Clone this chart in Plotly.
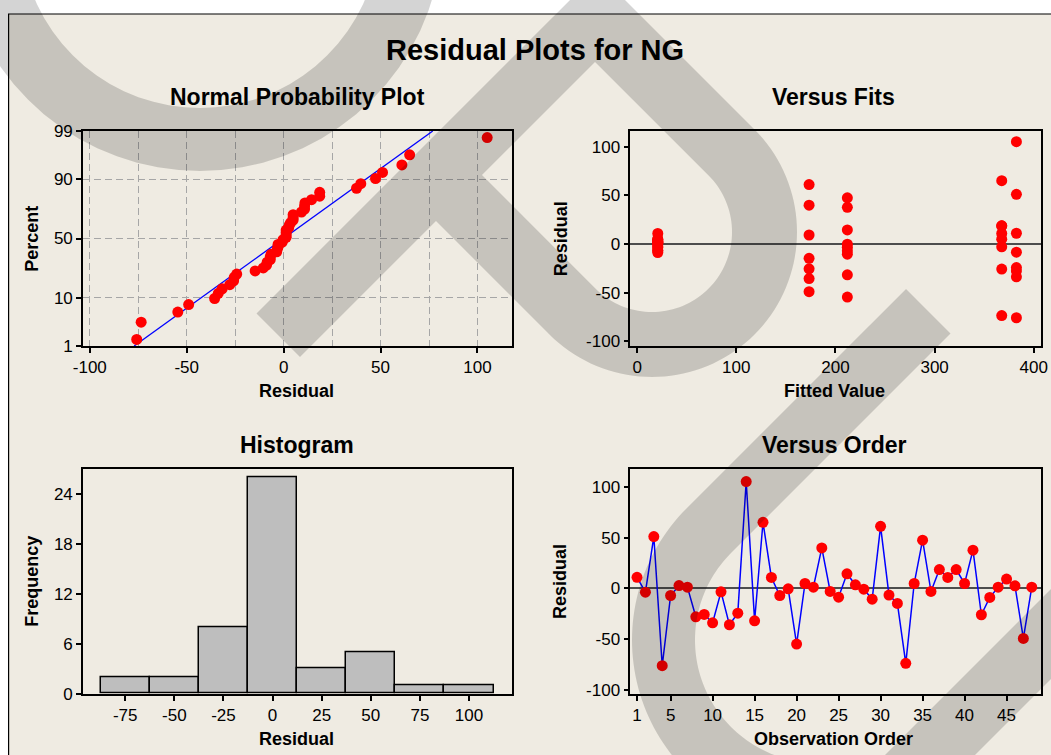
import math
from statistics import NormalDist, mean, stdev
import plotly.graph_objects as go

# Figure fills the whole 1051x755 window (page margins removed after drawing)
FW, FH = 1051, 755

# ---------------- data ----------------
observation = list(range(1, 49))
residuals = [11, -3.6, 51, -75.8, -6.9, 2.9, 1.3, -27.8, -25.5, -33.7,
             -3.3, -35.6, -24.2, 105, -31.7, 65, 10.8, -6.9, -0.3, -54.6,
             4.9, 1.3, 39.8, -2.9, -8.5, 14.4, 3.6, -0.7, -10.5, 61,
             -6.5, -14.7, -73.5, 4.9, 47.4, -2.9, 18.6, 10.8, 18.6, 4.9,
             37.6, -25.8, -8.8, 1.3, 9.2, 2.6, -49.0, 1.3]
fitted = [382.5, 20.8, 382.5, 382.5, 212.0, 20.8, 20.8, 382.5, 173.4, 382.5,
          212.0, 173.4, 382.5, 382.5, 212.0, 367.7, 20.8, 20.8, 212.0, 212.0,
          367.7, 20.8, 173.4, 367.7, 382.5, 212.0, 20.8, 20.8, 212.0, 173.4,
          20.8, 173.4, 367.7, 20.8, 212.0, 20.8, 367.7, 367.7, 367.7, 20.8,
          212.0, 367.7, 20.8, 20.8, 173.4, 20.8, 173.4, 20.8]
percent_ticks = [1, 10, 50, 90, 99]
npp_x_ticks = [-100, -50, 0, 50, 100]
fits_x_ticks = [0, 100, 200, 300, 400]
resid_ticks = [-100, -50, 0, 50, 100]
hist_x_ticks = [-75, -50, -25, 0, 25, 50, 75, 100]
hist_y_ticks = [0, 6, 12, 18, 24]
order_ticks = [1, 5, 10, 15, 20, 25, 30, 35, 40, 45]
bin_start, bin_end, bin_width = -87.5, 112.5, 25

# ---------------- derived (normal probability) ----------------
nd = NormalDist()
n = len(residuals)
sorted_res = sorted(residuals)
z_pts = [nd.inv_cdf((i - 0.3) / (n + 0.4)) for i in range(1, n + 1)]
mu, sd = mean(residuals), stdev(residuals)
z_lo, z_hi = nd.inv_cdf(0.01), nd.inv_cdf(0.99)
line_z = [z_lo, z_hi]
line_x = [mu + sd * z for z in line_z]


def lab(v):
    return str(v).replace("\u2212", "-")


def fx(X):
    """window pixel x -> paper fraction"""
    return X / FW


def fy(Y):
    """window pixel y -> paper fraction"""
    return 1 - Y / FH


FONT = "Liberation Sans"
RED = "#ff0000"
BLUE = "#0000ff"

fig = go.Figure()

# Normal probability plot
fig.add_trace(go.Scatter(x=line_x, y=line_z, mode="lines",
                         line=dict(color=BLUE, width=1.3),
                         xaxis="x", yaxis="y", hoverinfo="skip"))
fig.add_trace(go.Scatter(x=sorted_res, y=z_pts, mode="markers",
                         marker=dict(color=RED, size=11),
                         xaxis="x", yaxis="y"))
# Versus fits
fig.add_trace(go.Scatter(x=fitted, y=residuals, mode="markers",
                         marker=dict(color=RED, size=11),
                         xaxis="x2", yaxis="y2"))
# Histogram
fig.add_trace(go.Histogram(x=residuals,
                           xbins=dict(start=bin_start, end=bin_end, size=bin_width),
                           marker=dict(color="#bebebe", line=dict(color="black", width=1.5)),
                           xaxis="x3", yaxis="y3"))
# Versus order
fig.add_trace(go.Scatter(x=observation, y=residuals, mode="lines+markers",
                         line=dict(color=BLUE, width=1.5),
                         marker=dict(color=RED, size=11),
                         xaxis="x4", yaxis="y4"))


def ax(**kw):
    base = dict(showline=True, linecolor="black", linewidth=1.6, mirror=True,
                ticks="outside", ticklen=5, tickwidth=1.5, tickcolor="black",
                tickfont=dict(family=FONT, size=17, color="black"),
                showgrid=False, zeroline=False, fixedrange=True, automargin=False)
    base.update(kw)
    return base


GRID = "#a6a6a6"
DASH = "7px,4px"

top_y = [fy(346), fy(131)]
bot_y = [fy(693.7), fy(469.3)]
left_x = [fx(83), fx(512)]
right_x = [fx(630.3), fx(1041)]

layout = dict(
    width=FW, height=FH,
    margin=dict(l=0, r=0, t=0, b=0, pad=0, autoexpand=False),
    paper_bgcolor="white", plot_bgcolor="white",
    showlegend=False, bargap=0,
    font=dict(family=FONT, color="black"),
    xaxis=ax(domain=left_x, anchor="y", range=[-103.5, 117.8],
             tickmode="array", tickvals=npp_x_ticks, ticktext=[lab(v) for v in npp_x_ticks],
             showgrid=True, gridcolor=GRID, griddash=DASH, gridwidth=1,
             minor=dict(dtick=25, tick0=0, showgrid=True, gridcolor=GRID,
                        griddash=DASH, gridwidth=1, ticklen=0)),
    yaxis=ax(domain=top_y, anchor="x", range=[z_lo, z_hi],
             tickmode="array", tickvals=[nd.inv_cdf(p / 100) for p in percent_ticks],
             ticktext=[str(p) for p in percent_ticks],
             showgrid=True, gridcolor=GRID, griddash=DASH, gridwidth=1),
    xaxis2=ax(domain=right_x, anchor="y2", range=[-6.9, 407.3],
              tickmode="array", tickvals=fits_x_ticks, ticktext=[lab(v) for v in fits_x_ticks]),
    yaxis2=ax(domain=top_y, anchor="x2", range=[-104.8, 116],
              tickmode="array", tickvals=resid_ticks, ticktext=[lab(v) for v in resid_ticks],
              zeroline=True, zerolinecolor="#4d4d4d", zerolinewidth=1.5),
    xaxis3=ax(domain=left_x, anchor="y3", range=[-96.5, 121.9],
              tickmode="array", tickvals=hist_x_ticks, ticktext=[lab(v) for v in hist_x_ticks]),
    yaxis3=ax(domain=bot_y, anchor="x3", range=[0, 27],
              tickmode="array", tickvals=hist_y_ticks, ticktext=[lab(v) for v in hist_y_ticks]),
    xaxis4=ax(domain=right_x, anchor="y4", range=[0.2, 49.1],
              tickmode="array", tickvals=order_ticks, ticktext=[lab(v) for v in order_ticks]),
    yaxis4=ax(domain=bot_y, anchor="x4", range=[-103.3, 117],
              tickmode="array", tickvals=resid_ticks, ticktext=[lab(v) for v in resid_ticks],
              zeroline=True, zerolinecolor="#4d4d4d", zerolinewidth=1.5),
)
fig.update_layout(**layout)


# ---------------- text ----------------
def text(t, X, Y, size, angle=0):
    fig.add_annotation(text=f"<b>{t}</b>", x=fx(X), y=fy(Y),
                       xref="paper", yref="paper", showarrow=False,
                       xanchor="center", yanchor="middle", textangle=angle,
                       font=dict(family=FONT, size=size, color="black"))


text("Residual Plots for NG", 535, 49.7, 29)
text("Normal Probability Plot", 297, 97.4, 23)
text("Versus Fits", 833, 97.4, 23)
text("Histogram", 297, 445.4, 23)
text("Versus Order", 834, 445.4, 23)
text("Residual", 296, 390.6, 18)
text("Fitted Value", 834, 390.6, 18)
text("Residual", 296, 739, 18)
text("Observation Order", 833, 739, 18)
text("Percent", 31.3, 238.5, 18, -90)
text("Residual", 560.8, 238.5, 18, -90)
text("Frequency", 31.3, 581.5, 18, -90)
text("Residual", 559.5, 581.5, 18, -90)


# ---------------- background frame and watermark ----------------
def pt(X, Y):
    return f"{fx(X):.5f},{fy(Y):.5f}"


def arc(cx, cy, r, a0, a1, steps=72):
    out = []
    for k in range(steps + 1):
        a = math.radians(a0 + (a1 - a0) * k / steps)
        out.append((cx + r * math.cos(a), cy + r * math.sin(a)))
    return out


def poly(points):
    return "M" + " L".join(pt(x, y) for x, y in points) + " Z"


shapes = [dict(type="path", xref="paper", yref="paper", layer="below",
               path=poly([(8.6, 14), (1100, 14), (1100, 800), (8.6, 800)]),
               fillcolor="#efebe2", line=dict(color="black", width=1.2))]

wm = []
# U ring, top left
wm.append(poly(arc(200, -72, 243, 0, 360)) + " " + poly(arc(200, -72, 180, 0, 360)))
# chevron with loop, top middle
outer = [(597.5, -27.5), (754.5, 129.5)] + arc(652, 232, 145, -45, 135) + \
        [(436, 221), (300, 357), (256.5, 313.5)]
hole = [(595, 62), (708.6, 175.4)] + arc(652, 232, 80, -45, 135) + [(482, 175)]
wm.append(poly(outer) + " " + poly(hole))
# diagonal band into C ring, bottom middle
c_shape = [(906, 289)] + arc(818, 640, 186, 225, 90) + arc(818, 640, 123, 90, 225) + [(950.5, 333.5)]
wm.append(poly(c_shape))
# diagonal band, bottom right
wm.append(poly([(1200, 440), (800, 840), (890, 840), (1290, 440)]))

for p in wm:
    shapes.append(dict(type="path", xref="paper", yref="paper", layer="above",
                       path=p, fillcolor="rgba(0,0,0,0.17)", fillrule="evenodd",
                       line=dict(width=0)))

fig.update_layout(shapes=shapes)

post = ("document.documentElement.style.margin='0';"
        "document.documentElement.style.padding='0';"
        "document.body.style.margin='0';document.body.style.padding='0';"
        "document.body.style.overflow='hidden';"
        "var d=document.getElementById('{plot_id}');"
        "d.style.position='absolute';d.style.left='0px';d.style.top='0px';")

fig.write_html("out.html", config={"displayModeBar": False}, post_script=post)
